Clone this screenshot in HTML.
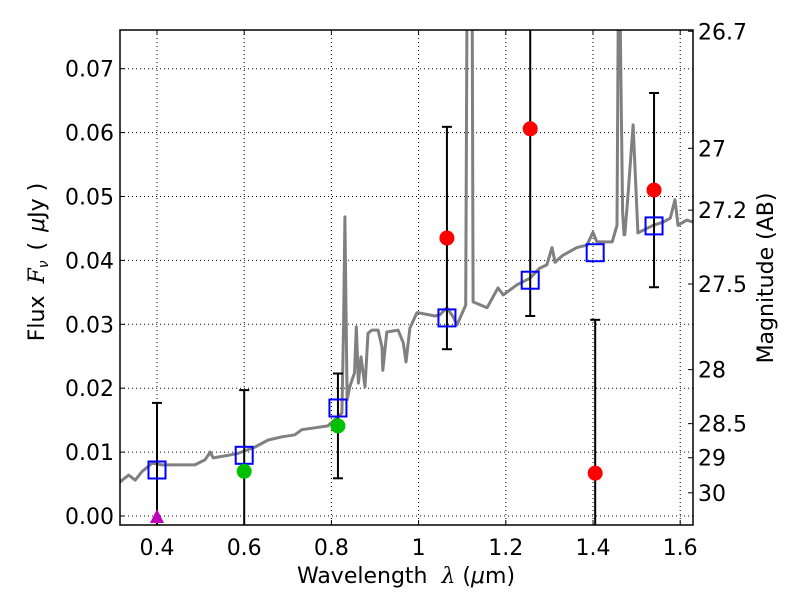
<!DOCTYPE html>
<html><head><meta charset="utf-8"><style>
body{margin:0;background:#fff}
svg{font-family:"DejaVu Sans","Liberation Sans",sans-serif}
</style></head><body>
<svg id="chart" width="800" height="600"></svg>
<script>
const specWave=[0.315,0.32,0.335,0.35,0.365,0.389,0.411,0.457,0.487,0.51,0.522,0.529,0.563,0.586,0.625,0.655,0.687,0.716,0.732,0.762,0.792,0.824,0.828,0.831,0.834,0.836,0.842,0.853,0.857,0.862,0.868,0.877,0.884,0.893,0.907,0.916,0.918,0.927,0.953,0.965,0.971,0.98,0.996,1.0,1.038,1.049,1.065,1.079,1.088,1.108,1.111,1.113,1.121,1.123,1.125,1.157,1.182,1.194,1.226,1.255,1.278,1.294,1.306,1.313,1.331,1.363,1.386,1.4,1.409,1.444,1.455,1.458,1.462,1.468,1.471,1.473,1.48,1.492,1.503,1.538,1.561,1.577,1.588,1.595,1.615,1.63];
const specFlux=[0.0053,0.0056,0.0064,0.0056,0.0069,0.0083,0.008,0.008,0.008,0.0088,0.01,0.0091,0.0095,0.0098,0.0108,0.0119,0.0124,0.0127,0.0135,0.0138,0.0141,0.0161,0.03,0.0468,0.03,0.0182,0.0202,0.0224,0.0296,0.0208,0.0249,0.0202,0.0286,0.0291,0.0291,0.0264,0.0228,0.0288,0.0291,0.0271,0.0241,0.0294,0.0318,0.0318,0.0313,0.0315,0.0326,0.0312,0.0299,0.033,0.08,0.08,0.08,0.08,0.0335,0.0326,0.0357,0.0346,0.0362,0.0372,0.0388,0.0393,0.042,0.0397,0.0408,0.042,0.0424,0.0444,0.0429,0.0429,0.0455,0.08,0.08,0.0476,0.044,0.044,0.05,0.0612,0.0443,0.0455,0.046,0.0466,0.0495,0.0455,0.0463,0.046];
const modelWave=[0.4,0.6,0.815,1.065,1.256,1.405,1.54];
const modelFlux=[0.0072,0.0095,0.0169,0.031,0.0369,0.0412,0.0454];
const obsWave=[0.4,0.6,0.815,1.065,1.256,1.405,1.54];
const obsFlux=[0.0,0.0070,0.0141,0.0435,0.0606,0.0067,0.051];
const obsErr=[0.0177,0.0127,0.0082,0.0174,0.0293,0.024,0.0152];
const obsColor=["#bf00bf","#00c000","#00c000","#ff0000","#ff0000","#ff0000","#ff0000"];
const xTicks=[0.4,0.6,0.8,1.0,1.2,1.4,1.6];
const xTickLabels=["0.4","0.6","0.8","1","1.2","1.4","1.6"];
const yTicks=[0,0.01,0.02,0.03,0.04,0.05,0.06,0.07];
const yTickLabels=["0.00","0.01","0.02","0.03","0.04","0.05","0.06","0.07"];
const magTicks=[26.7,27,27.2,27.5,28,28.5,29,30];
const magLabels=["26.7","27","27.2","27.5","28","28.5","29","30"];

const L=120,R=693,T=30,B=525;
const x=v=>157+(v-0.4)*436;
const y=v=>516-v*6390;
const NS="http://www.w3.org/2000/svg";
const svg=document.getElementById('chart');
function mk(tag,attrs,parent){const e=document.createElementNS(NS,tag);for(const k in attrs)e.setAttribute(k,attrs[k]);(parent||svg).appendChild(e);return e;}
const clip=mk('clipPath',{id:'pc'});mk('rect',{x:L,y:T,width:R-L,height:B-T},clip);
const grid=mk('g',{});


xTicks.forEach((t,i)=>{
 mk('line',{x1:x(t),x2:x(t),y1:T,y2:B,stroke:'#000','stroke-width':1,'stroke-dasharray':'1,3'},grid);
 mk('line',{x1:x(t),x2:x(t),y1:B,y2:B-5,stroke:'#000'},grid);
 mk('line',{x1:x(t),x2:x(t),y1:T,y2:T+5,stroke:'#000'},grid);
 const tx=mk('text',{x:x(t),y:B+30,'text-anchor':'middle','font-size':22});tx.textContent=xTickLabels[i];
 
 
});
yTicks.forEach((t,i)=>{
 mk('line',{x1:L,x2:R,y1:y(t),y2:y(t),stroke:'#000','stroke-width':1,'stroke-dasharray':'1,3'},grid);
 mk('line',{x1:L,x2:L+5,y1:y(t),y2:y(t),stroke:'#000'},grid);
 const tx=mk('text',{x:L-6,y:y(t)+8,'text-anchor':'end','font-size':22});tx.textContent=yTickLabels[i];
 
 
});
magTicks.forEach((m,i)=>{
 const f=Math.pow(10,-(m-23.9)/2.5);const yy=y(f);
 mk('line',{x1:R-5,x2:R,y1:yy,y2:yy,stroke:'#000'},grid);
 const tx=mk('text',{x:R+5,y:yy+8,'font-size':22});tx.textContent=magLabels[i];
 
 
});
const g=mk('g',{'clip-path':'url(#pc)'});
const idx=specWave.map((w,i)=>i).sort((a,b)=>specWave[a]-specWave[b]);
const pts=idx.map(i=>x(specWave[i]).toFixed(1)+','+y(specFlux[i]).toFixed(1)).join(' ');
const sp=mk('polyline',{points:pts,fill:'none',stroke:'#808080','stroke-width':3,'stroke-linejoin':'round'},g);


obsWave.forEach((w,i)=>{
 const cx=x(w),y1=y(obsFlux[i]+obsErr[i]),y2=y(obsFlux[i]-obsErr[i]);
 const eb=mk('g',{},g);
 
 
 mk('line',{x1:cx,x2:cx,y1:y1,y2:y2,stroke:'#000','stroke-width':2},eb);
 mk('line',{x1:cx-5,x2:cx+5,y1:y1,y2:y1,stroke:'#000','stroke-width':2},eb);
 mk('line',{x1:cx-5,x2:cx+5,y1:y2,y2:y2,stroke:'#000','stroke-width':2},eb);
});
modelWave.forEach((w,i)=>{
 const r=mk('rect',{x:x(w)-8.5,y:y(modelFlux[i])-8.5,width:17,height:17,fill:'none',stroke:'#0000ff','stroke-width':2},g);
 
 
});
obsWave.forEach((w,i)=>{
 let e;
 if(i===0){const cx=x(w),cy=y(obsFlux[i]);e=mk('polygon',{points:`${cx-7},${cy+7} ${cx+7},${cy+7} ${cx},${cy-7}`,fill:obsColor[i]},g);}
 else e=mk('circle',{cx:x(w),cy:y(obsFlux[i]),r:7.5,fill:obsColor[i]},g);
 
 
});
const fr=mk('rect',{x:L,y:T,width:R-L,height:B-T,fill:'none',stroke:'#000','stroke-width':1.5});


const xl=mk('text',{x:406,y:583,'text-anchor':'middle','font-size':22});
xl.innerHTML='Wavelength<tspan dx="14" font-style="italic" font-family="DejaVu Serif,serif">λ</tspan> (<tspan font-style="italic">μ</tspan>m)';


const yl=mk('text',{x:0,y:0,'text-anchor':'middle','font-size':22,transform:'translate(44,262) rotate(-90)'});
yl.innerHTML='Flux<tspan dx="12" font-style="italic" font-family="DejaVu Serif,serif">F</tspan><tspan font-size="14" dy="4" font-style="italic">ν</tspan><tspan dy="-4" dx="10">(</tspan><tspan dx="10" font-style="italic">μ</tspan>Jy )';


const rl=mk('text',{x:0,y:0,'text-anchor':'middle','font-size':22,transform:'translate(773,278) rotate(-90)'});
rl.textContent='Magnitude (AB)';


</script>
</body></html>
